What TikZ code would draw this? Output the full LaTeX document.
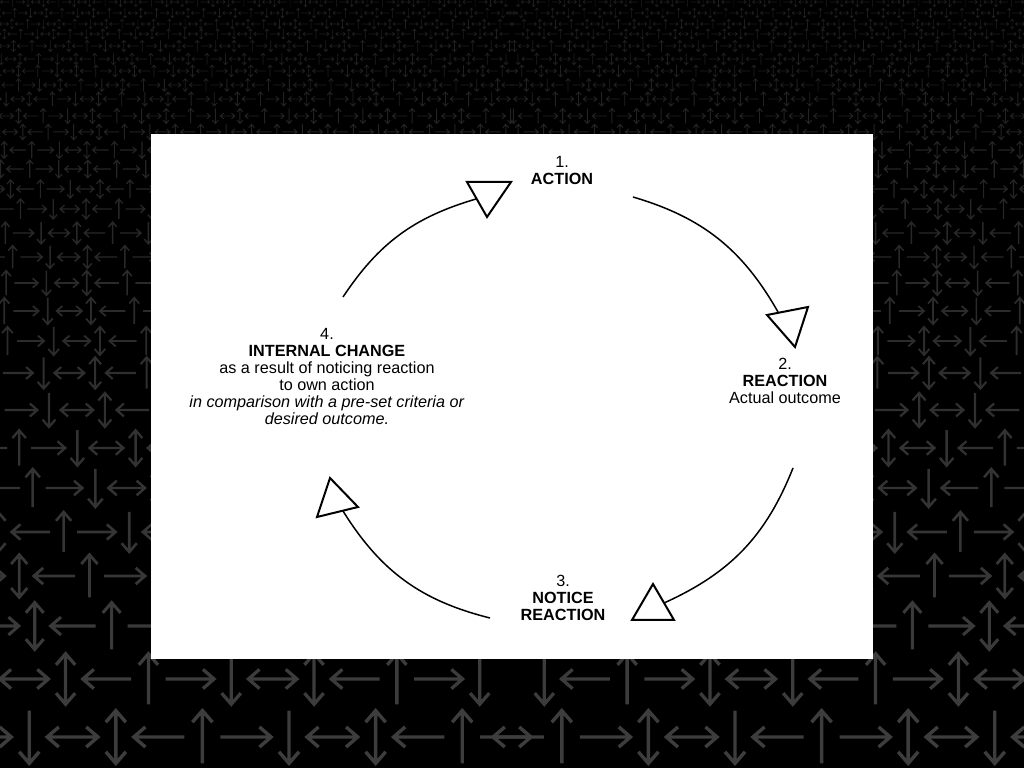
\documentclass[tikz,border=0pt]{standalone}
\usepackage{fontspec}
\setmainfont{Liberation Sans}
\usepackage{tikz}
\usepackage{xcolor}

\definecolor{arrowgray}{RGB}{62,62,62}

% one arrow glyph of the background, unit size
\newcommand{\arrowglyph}[1]{%
  \ifcase#1
    \draw (-.48,0) -- (.48,0) (-.26,.19) -- (-.48,0) -- (-.26,-.19) (.26,.19) -- (.48,0) -- (.26,-.19);
  \or
    \draw (0,-.5) -- (0,.5) (-.19,.28) -- (0,.5) -- (.19,.28) (-.19,-.28) -- (0,-.5) -- (.19,-.28);
  \or
    \draw (-.48,0) -- (.48,0) (-.26,.19) -- (-.48,0) -- (-.26,-.19);
  \or
    \draw (0,-.5) -- (0,.5) (-.19,.28) -- (0,.5) -- (.19,.28);
  \or
    \draw (-.48,0) -- (.48,0) (.26,.19) -- (.48,0) -- (.26,-.19);
  \or
    \draw (0,-.5) -- (0,.5) (-.19,-.28) -- (0,-.5) -- (.19,-.28);
  \fi}

\tikzset{
  cyclearc/.style={line width=1.5pt},
  tipmark/.style={draw, line width=2pt, fill=white, line join=miter},
  steptext/.style={align=center, inner sep=0pt, font=\fontsize{16.2}{17}\selectfont},
}

\begin{document}
\begin{tikzpicture}[x=1pt, y=1pt]
    \useasboundingbox (0,0) rectangle (1024,768);
    \fill[black] (0,0) rectangle (1024,768);

    % Background arrows, rows from the bottom up, mirrored about the middle
    \foreach \yy/\hh [count=\i from 0] in {737/52.8, 679/50.5, 626/46.9, 576/42.8,
        532/40.0, 488/38.2, 448/35.5, 410/34.1, 373/31.4, 341/28.2, 311/26.4,
        283/24.6, 257/22.8, 233/21.8, 209/20.0, 189/18.2, 169/17.7, 150/16.8,
        132/15.5, 116/15.0, 99/14.1, 85/12.7, 71/11.8, 59/11.4, 46/11.2,
        34/10.0, 24/9.6, 13/9.6, 2/9.4}{
      \pgfmathsetmacro\ss{0.82*\hh}
      \pgfmathsetmacro\uu{10.15+1.63*\i}
      \pgfmathtruncatemacro\fl{floor(\uu)}
      \pgfmathsetmacro\ff{\uu-\fl}
      \pgfmathtruncatemacro\mm{512/\ss+1}
      \pgfmathsetmacro\lw{0.065*\hh}
      \pgfmathtruncatemacro\pc{50+50*(\hh-9)/44}
      \pgfmathsetmacro\Y{768-\yy}
      \foreach \m in {0,...,\mm}{
        \pgfmathsetmacro\xx{512-(\ff+\m)*\ss}
        \pgfmathtruncatemacro\tt{mod(\fl-\m+600,6)}
        \begin{scope}[shift={(\xx,\Y)}, scale=\hh, line width=\lw pt, draw=arrowgray!\pc!black]
          \arrowglyph{\tt}
        \end{scope}
        \begin{scope}[shift={(1024-\xx,\Y)}, xscale=-\hh, yscale=\hh, line width=\lw pt, draw=arrowgray!\pc!black]
          \arrowglyph{\tt}
        \end{scope}
      }
    }

    % White panel
    \fill[white] (151,109) rectangle (873,634);

    % Step labels
    \node[steptext] (action)   at (562,597) {1.\\\textbf{ACTION}};
    \node[steptext] (reaction) at (785,387) {2.\\\textbf{REACTION}\\Actual outcome};
    \node[steptext] (notice)   at (563,170) {3.\\\textbf{NOTICE}\\\textbf{REACTION}};
    \node[steptext] (change)   at (327,391) {4.\\\textbf{INTERNAL CHANGE}\\as a result of noticing reaction\\to own action\\\textit{in comparison with a pre-set criteria or}\\\textit{desired outcome.}};

    % Arc ends
    \coordinate (a1s) at (633,571);
    \coordinate (a1e) at (778,456);
    \coordinate (a2s) at (793,300);
    \coordinate (a2e) at (664,165);
    \coordinate (a3s) at (490,150);
    \coordinate (a3e) at (343,257);
    \coordinate (a4s) at (343,471);
    \coordinate (a4e) at (476,569);

    % Cycle arcs
    \draw[cyclearc] (a1s) to[bend left=22] (a1e);
    \draw[cyclearc] (a2s) to[bend left=22] (a2e);
    \draw[cyclearc] (a3s) to[bend left=22] (a3e);
    \draw[cyclearc] (a4s) to[bend left=20] (a4e);

    % Triangle marks
    \draw[tipmark] (467,586) -- (511,586) -- (487,551) -- cycle;
    \draw[tipmark] (767,453) -- (808,461) -- (795,421) -- cycle;
    \draw[tipmark] (632,148) -- (674,148) -- (653,184) -- cycle;
    \draw[tipmark] (330,290) -- (317,251) -- (358,261) -- cycle;
\end{tikzpicture}
\end{document}
